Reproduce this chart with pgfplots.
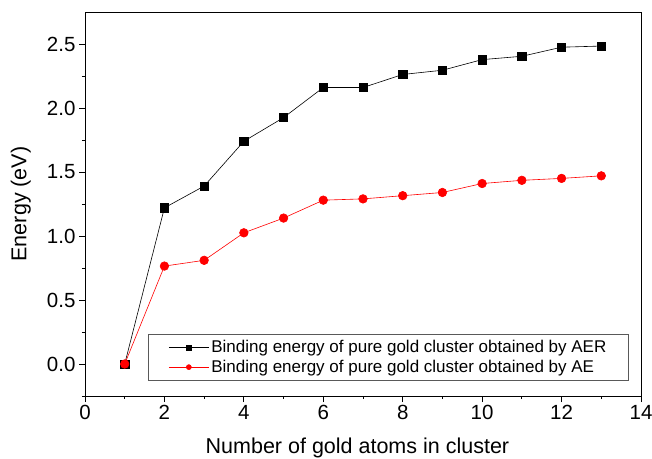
\documentclass[border=0pt]{standalone}
\usepackage{pgfplots}
\pgfplotsset{compat=1.18}
\usepackage{fontspec}
\setmainfont{Liberation Sans}
\begin{document}
\begin{tikzpicture}
\begin{axis}[
  scale only axis,
  width=556pt, height=384pt,
  xmin=0, xmax=14, ymin=-0.25, ymax=2.75,
  xtick={0,2,...,14}, ytick={0,0.5,...,2.5},
  minor xtick={1,3,...,13}, minor ytick={0.25,0.75,...,2.25,-0.25},
  tick pos=left,
  tick align=outside,
  major tick length=6pt, minor tick length=3pt,
  tick style={black, line width=0.8pt},
  axis line style={line width=0.9pt},
  /pgf/number format/assume math mode=true,
  /pgf/number format/.cd, fixed, fixed zerofill, precision=1, /pgfplots/.cd,
  xticklabel style={/pgf/number format/precision=0, /pgf/number format/fixed zerofill=false},
  tick label style={font=\fontsize{20.5}{22}\selectfont},
  label style={font=\fontsize{21.5}{24}\selectfont},
  xlabel={Number of gold atoms in cluster},
  ylabel={Energy (eV)},
  xlabel style={at={(axis description cs:0.49,-0.151)}, anchor=base},
  ylabel style={at={(axis description cs:-0.1155,0.5)}, anchor=center},
  legend style={at={(axis cs:1.59,0.235)}, anchor=north west,
    draw=gray!70!black, line width=0.8pt,
    font=\fontsize{17}{19}\selectfont, inner xsep=20pt, inner ysep=4pt,
    row sep=1.5pt, nodes={inner sep=2.2pt}},
  legend cell align=left,
  legend image code/.code={
    \draw[mark repeat=2,mark phase=2,#1,mark size=2.5pt] plot coordinates {(0pt,0pt) (20pt,0pt) (40pt,0pt)};},
]
\addplot[black, line width=0.6pt, mark=square*, mark size=4.2pt] coordinates {
 (1,0) (2,1.22) (3,1.39) (4,1.74) (5,1.925) (6,2.16) (7,2.16) (8,2.262) (9,2.295) (10,2.378) (11,2.404) (12,2.475) (13,2.484)};
\addlegendentry{Binding energy of pure gold cluster obtained by AER}
\addplot[red, line width=0.6pt, mark=*, mark size=4.3pt] coordinates {
 (1,0) (2,0.765) (3,0.81) (4,1.025) (5,1.14) (6,1.28) (7,1.29) (8,1.315) (9,1.34) (10,1.41) (11,1.435) (12,1.45) (13,1.47)};
\addlegendentry{Binding energy of pure gold cluster obtained by AE}
\end{axis}
\pgfresetboundingbox
\path[use as bounding box] (-85pt,-62pt) rectangle (567pt,396pt);
\end{tikzpicture}
\end{document}
